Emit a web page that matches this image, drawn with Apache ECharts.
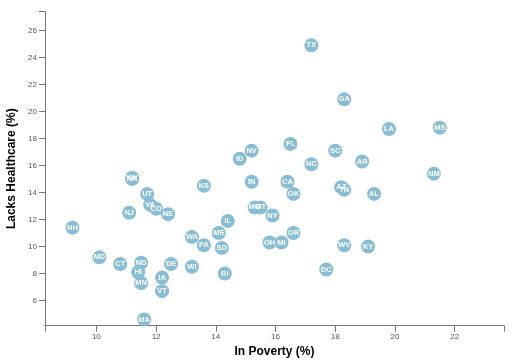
<!DOCTYPE html>
<html><head><meta charset="utf-8">
<script src="https://cdn.jsdelivr.net/npm/echarts@6/dist/echarts.min.js"></script>
<style>html,body{margin:0;padding:0;background:#fff}#c{width:519px;height:363px}</style>
</head><body><div id="c"></div>
<script>
const states = ["AL","AK","AZ","AR","CA","CO","CT","DE","DC","FL","GA","HI","ID","IL","IN","IA","KS","KY","LA","ME","MD","MA","MI","MN","MS","MO","MT","NE","NV","NH","NJ","NM","NY","NC","ND","OH","OK","OR","PA","RI","SC","SD","TN","TX","UT","VT","VA","WA","WV","WI","WY"];
const poverty = [19.3,11.2,18.2,18.9,16.4,12.0,10.8,12.5,17.7,16.5,18.3,11.4,14.8,14.4,15.2,12.2,13.6,19.1,19.8,14.1,10.1,11.6,16.2,11.5,21.5,15.3,15.5,12.4,15.2,9.2,11.1,21.3,15.9,17.2,11.5,15.8,16.6,16.6,13.6,14.3,18.0,14.2,18.3,17.2,11.7,12.2,11.8,13.2,18.3,13.2,11.2];
const healthcare = [13.9,15.0,14.4,16.3,14.8,12.8,8.7,8.7,8.3,17.6,20.9,8.1,16.5,11.9,14.8,7.7,14.5,10.0,18.7,11.0,9.2,4.6,10.3,7.3,18.8,12.9,12.9,12.4,17.1,11.4,12.5,15.4,12.3,16.1,8.8,10.3,13.9,11.0,10.1,8.0,17.1,9.9,14.2,24.9,13.9,6.7,13.1,10.7,10.1,8.5,15.1];
const xTicks = [10,12,14,16,18,20,22];
const yTicks = [6,8,10,12,14,16,18,20,22,24,26];
const xMin = 8.28, xMax = 23.65, yMin = 4.14, yMax = 27.39;

const data = states.map((s,i)=>[poverty[i], healthcare[i], s]);
const chart = echarts.init(document.getElementById('c'), null, {renderer:'canvas'});
const font = 'Liberation Sans, Arial, sans-serif';
const lineStyle = {color:'#777', width:1};
chart.setOption({
  animation:false,
  grid:{left:45, right:15, top:11.7, bottom:37.3, containLabel:false, outerBoundsMode:'none'},
  xAxis:{
    type:'value', min:xMin, max:xMax,
    axisLine:{show:true, lineStyle:lineStyle},
    axisTick:{show:true, length:6, lineStyle:lineStyle, customValues:[xMin].concat(xTicks,[xMax])},
    axisLabel:{color:'#555', fontSize:8, fontFamily:font, customValues:xTicks, margin:7},
    splitLine:{show:false},
    name:'In Poverty (%)', nameLocation:'middle', nameGap:19,
    nameTextStyle:{fontSize:12, fontWeight:'bold', color:'#000', fontFamily:font}
  },
  yAxis:{
    type:'value', min:yMin, max:yMax,
    axisLine:{show:true, lineStyle:lineStyle},
    axisTick:{show:true, length:6, lineStyle:lineStyle, customValues:yTicks.concat([yMax])},
    axisLabel:{color:'#555', fontSize:8, fontFamily:font, customValues:yTicks, margin:8},
    splitLine:{show:false},
    name:'Lacks Healthcare (%)', nameLocation:'middle', nameGap:25,
    nameTextStyle:{fontSize:12, fontWeight:'bold', color:'#000', fontFamily:font}
  },
  series:[{
    type:'scatter', data:data, symbolSize:14,
    itemStyle:{color:'#89bdd3', opacity:1},
    label:{show:true, position:'inside', formatter:p=>p.data[2], color:'#fff', fontSize:7.5, fontWeight:'bold', fontFamily:font},
    labelLayout:{hideOverlap:false}
  }]
});
</script></body></html>
